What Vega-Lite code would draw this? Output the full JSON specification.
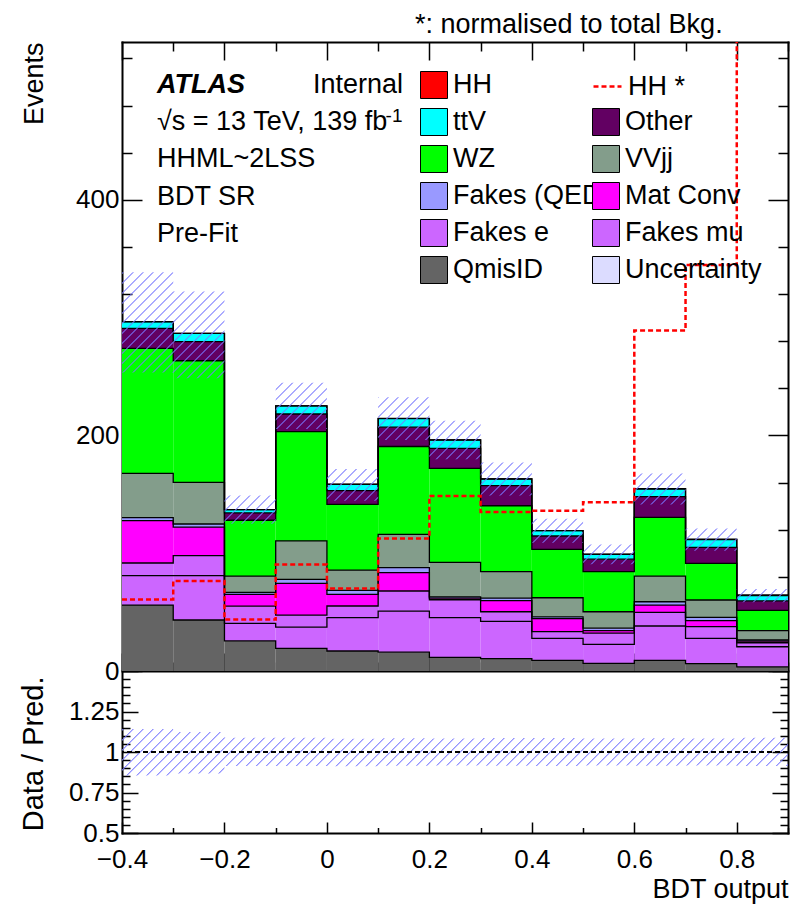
{
  "$schema": "https://vega.github.io/schema/vega-lite/v6.json",
  "width": 666,
  "height": 791,
  "autosize": {"type": "none"},
  "padding": {"left": 122, "top": 42, "right": 2, "bottom": 79},
  "background": "white",
  "datasets": {
    "procs": [
      {"lo": -0.4, "hi": -0.3, "process": "QmisID", "events": 56},
      {"lo": -0.4, "hi": -0.3, "process": "Fakes mu", "events": 25},
      {"lo": -0.4, "hi": -0.3, "process": "Fakes e", "events": 10.7},
      {"lo": -0.4, "hi": -0.3, "process": "Mat Conv", "events": 35.9},
      {"lo": -0.4, "hi": -0.3, "process": "Fakes (QED)", "events": 2.6},
      {"lo": -0.4, "hi": -0.3, "process": "VVjj", "events": 37.6},
      {"lo": -0.4, "hi": -0.3, "process": "WZ", "events": 106.1},
      {"lo": -0.4, "hi": -0.3, "process": "Other", "events": 17},
      {"lo": -0.4, "hi": -0.3, "process": "ttV", "events": 5.6},
      {"lo": -0.4, "hi": -0.3, "process": "HH", "events": 0.06},
      {"lo": -0.3, "hi": -0.2, "process": "QmisID", "events": 43.3},
      {"lo": -0.3, "hi": -0.2, "process": "Fakes mu", "events": 37.7},
      {"lo": -0.3, "hi": -0.2, "process": "Fakes e", "events": 17},
      {"lo": -0.3, "hi": -0.2, "process": "Mat Conv", "events": 24.2},
      {"lo": -0.3, "hi": -0.2, "process": "Fakes (QED)", "events": 2.6},
      {"lo": -0.3, "hi": -0.2, "process": "VVjj", "events": 35.4},
      {"lo": -0.3, "hi": -0.2, "process": "WZ", "events": 103.2},
      {"lo": -0.3, "hi": -0.2, "process": "Other", "events": 16.2},
      {"lo": -0.3, "hi": -0.2, "process": "ttV", "events": 7},
      {"lo": -0.3, "hi": -0.2, "process": "HH", "events": 0.08},
      {"lo": -0.2, "hi": -0.1, "process": "QmisID", "events": 25.5},
      {"lo": -0.2, "hi": -0.1, "process": "Fakes mu", "events": 14.9},
      {"lo": -0.2, "hi": -0.1, "process": "Fakes e", "events": 14.6},
      {"lo": -0.2, "hi": -0.1, "process": "Mat Conv", "events": 10},
      {"lo": -0.2, "hi": -0.1, "process": "Fakes (QED)", "events": 1.8},
      {"lo": -0.2, "hi": -0.1, "process": "VVjj", "events": 13.8},
      {"lo": -0.2, "hi": -0.1, "process": "WZ", "events": 47.4},
      {"lo": -0.2, "hi": -0.1, "process": "Other", "events": 6.2},
      {"lo": -0.2, "hi": -0.1, "process": "ttV", "events": 2.8},
      {"lo": -0.2, "hi": -0.1, "process": "HH", "events": 0.04},
      {"lo": -0.1, "hi": 0, "process": "QmisID", "events": 19.2},
      {"lo": -0.1, "hi": 0, "process": "Fakes mu", "events": 18.1},
      {"lo": -0.1, "hi": 0, "process": "Fakes e", "events": 10.2},
      {"lo": -0.1, "hi": 0, "process": "Mat Conv", "events": 26.9},
      {"lo": -0.1, "hi": 0, "process": "Fakes (QED)", "events": 3.4},
      {"lo": -0.1, "hi": 0, "process": "VVjj", "events": 32.6},
      {"lo": -0.1, "hi": 0, "process": "WZ", "events": 92.8},
      {"lo": -0.1, "hi": 0, "process": "Other", "events": 15},
      {"lo": -0.1, "hi": 0, "process": "ttV", "events": 6.8},
      {"lo": -0.1, "hi": 0, "process": "HH", "events": 0.09},
      {"lo": 0, "hi": 0.1, "process": "QmisID", "events": 17},
      {"lo": 0, "hi": 0.1, "process": "Fakes mu", "events": 28.3},
      {"lo": 0, "hi": 0.1, "process": "Fakes e", "events": 9.9},
      {"lo": 0, "hi": 0.1, "process": "Mat Conv", "events": 9.9},
      {"lo": 0, "hi": 0.1, "process": "Fakes (QED)", "events": 3.4},
      {"lo": 0, "hi": 0.1, "process": "VVjj", "events": 17.2},
      {"lo": 0, "hi": 0.1, "process": "WZ", "events": 55.8},
      {"lo": 0, "hi": 0.1, "process": "Other", "events": 11.6},
      {"lo": 0, "hi": 0.1, "process": "ttV", "events": 5.4},
      {"lo": 0, "hi": 0.1, "process": "HH", "events": 0.07},
      {"lo": 0.1, "hi": 0.2, "process": "QmisID", "events": 16},
      {"lo": 0.1, "hi": 0.2, "process": "Fakes mu", "events": 34.9},
      {"lo": 0.1, "hi": 0.2, "process": "Fakes e", "events": 17},
      {"lo": 0.1, "hi": 0.2, "process": "Mat Conv", "events": 15.6},
      {"lo": 0.1, "hi": 0.2, "process": "Fakes (QED)", "events": 4.2},
      {"lo": 0.1, "hi": 0.2, "process": "VVjj", "events": 28.3},
      {"lo": 0.1, "hi": 0.2, "process": "WZ", "events": 74.6},
      {"lo": 0.1, "hi": 0.2, "process": "Other", "events": 16.4},
      {"lo": 0.1, "hi": 0.2, "process": "ttV", "events": 7.3},
      {"lo": 0.1, "hi": 0.2, "process": "HH", "events": 0.11},
      {"lo": 0.2, "hi": 0.3, "process": "QmisID", "events": 11.5},
      {"lo": 0.2, "hi": 0.3, "process": "Fakes mu", "events": 33.8},
      {"lo": 0.2, "hi": 0.3, "process": "Fakes e", "events": 15.2},
      {"lo": 0.2, "hi": 0.3, "process": "Mat Conv", "events": 1.3},
      {"lo": 0.2, "hi": 0.3, "process": "Fakes (QED)", "events": 1.1},
      {"lo": 0.2, "hi": 0.3, "process": "VVjj", "events": 29.3},
      {"lo": 0.2, "hi": 0.3, "process": "WZ", "events": 79.8},
      {"lo": 0.2, "hi": 0.3, "process": "Other", "events": 17},
      {"lo": 0.2, "hi": 0.3, "process": "ttV", "events": 7.1},
      {"lo": 0.2, "hi": 0.3, "process": "HH", "events": 0.15},
      {"lo": 0.3, "hi": 0.4, "process": "QmisID", "events": 10.5},
      {"lo": 0.3, "hi": 0.4, "process": "Fakes mu", "events": 31.7},
      {"lo": 0.3, "hi": 0.4, "process": "Fakes e", "events": 8.1},
      {"lo": 0.3, "hi": 0.4, "process": "Mat Conv", "events": 9.5},
      {"lo": 0.3, "hi": 0.4, "process": "Fakes (QED)", "events": 2.1},
      {"lo": 0.3, "hi": 0.4, "process": "VVjj", "events": 22.4},
      {"lo": 0.3, "hi": 0.4, "process": "WZ", "events": 56},
      {"lo": 0.3, "hi": 0.4, "process": "Other", "events": 17},
      {"lo": 0.3, "hi": 0.4, "process": "ttV", "events": 5.7},
      {"lo": 0.3, "hi": 0.4, "process": "HH", "events": 0.14},
      {"lo": 0.4, "hi": 0.5, "process": "QmisID", "events": 9},
      {"lo": 0.4, "hi": 0.5, "process": "Fakes mu", "events": 18.7},
      {"lo": 0.4, "hi": 0.5, "process": "Fakes e", "events": 5.7},
      {"lo": 0.4, "hi": 0.5, "process": "Mat Conv", "events": 11},
      {"lo": 0.4, "hi": 0.5, "process": "Fakes (QED)", "events": 1.5},
      {"lo": 0.4, "hi": 0.5, "process": "VVjj", "events": 16.3},
      {"lo": 0.4, "hi": 0.5, "process": "WZ", "events": 41.1},
      {"lo": 0.4, "hi": 0.5, "process": "Other", "events": 11.3},
      {"lo": 0.4, "hi": 0.5, "process": "ttV", "events": 4.5},
      {"lo": 0.4, "hi": 0.5, "process": "HH", "events": 0.14},
      {"lo": 0.5, "hi": 0.6, "process": "QmisID", "events": 6.5},
      {"lo": 0.5, "hi": 0.6, "process": "Fakes mu", "events": 16.1},
      {"lo": 0.5, "hi": 0.6, "process": "Fakes e", "events": 9.6},
      {"lo": 0.5, "hi": 0.6, "process": "Mat Conv", "events": 2.1},
      {"lo": 0.5, "hi": 0.6, "process": "Fakes (QED)", "events": 2.1},
      {"lo": 0.5, "hi": 0.6, "process": "VVjj", "events": 13.9},
      {"lo": 0.5, "hi": 0.6, "process": "WZ", "events": 34},
      {"lo": 0.5, "hi": 0.6, "process": "Other", "events": 10.6},
      {"lo": 0.5, "hi": 0.6, "process": "ttV", "events": 4.1},
      {"lo": 0.5, "hi": 0.6, "process": "HH", "events": 0.14},
      {"lo": 0.6, "hi": 0.7, "process": "QmisID", "events": 9},
      {"lo": 0.6, "hi": 0.7, "process": "Fakes mu", "events": 29.2},
      {"lo": 0.6, "hi": 0.7, "process": "Fakes e", "events": 11.6},
      {"lo": 0.6, "hi": 0.7, "process": "Mat Conv", "events": 6.2},
      {"lo": 0.6, "hi": 0.7, "process": "Fakes (QED)", "events": 2.8},
      {"lo": 0.6, "hi": 0.7, "process": "VVjj", "events": 21.8},
      {"lo": 0.6, "hi": 0.7, "process": "WZ", "events": 49.9},
      {"lo": 0.6, "hi": 0.7, "process": "Other", "events": 17.5},
      {"lo": 0.6, "hi": 0.7, "process": "ttV", "events": 6.5},
      {"lo": 0.6, "hi": 0.7, "process": "HH", "events": 0.29},
      {"lo": 0.7, "hi": 0.8, "process": "QmisID", "events": 6.2},
      {"lo": 0.7, "hi": 0.8, "process": "Fakes mu", "events": 21.5},
      {"lo": 0.7, "hi": 0.8, "process": "Fakes e", "events": 9.9},
      {"lo": 0.7, "hi": 0.8, "process": "Mat Conv", "events": 5.1},
      {"lo": 0.7, "hi": 0.8, "process": "Fakes (QED)", "events": 2.9},
      {"lo": 0.7, "hi": 0.8, "process": "VVjj", "events": 14.7},
      {"lo": 0.7, "hi": 0.8, "process": "WZ", "events": 31.1},
      {"lo": 0.7, "hi": 0.8, "process": "Other", "events": 13.6},
      {"lo": 0.7, "hi": 0.8, "process": "ttV", "events": 6.5},
      {"lo": 0.7, "hi": 0.8, "process": "HH", "events": 0.34},
      {"lo": 0.8, "hi": 0.9, "process": "QmisID", "events": 3.5},
      {"lo": 0.8, "hi": 0.9, "process": "Fakes mu", "events": 17.1},
      {"lo": 0.8, "hi": 0.9, "process": "Fakes e", "events": 3.4},
      {"lo": 0.8, "hi": 0.9, "process": "Mat Conv", "events": 1.3},
      {"lo": 0.8, "hi": 0.9, "process": "Fakes (QED)", "events": 1},
      {"lo": 0.8, "hi": 0.9, "process": "VVjj", "events": 7.9},
      {"lo": 0.8, "hi": 0.9, "process": "WZ", "events": 17.3},
      {"lo": 0.8, "hi": 0.9, "process": "Other", "events": 8},
      {"lo": 0.8, "hi": 0.9, "process": "ttV", "events": 4.5},
      {"lo": 0.8, "hi": 0.9, "process": "HH", "events": 0.58}
    ],
    "bins": [
      {"lo": -0.4, "hi": -0.3, "hhstar": 60.8, "band_lo": 253.5, "band_hi": 338.6, "ratio_lo": 0.855, "ratio_hi": 1.142},
      {"lo": -0.3, "hi": -0.2, "hhstar": 76.4, "band_lo": 248.5, "band_hi": 322.1, "ratio_lo": 0.867, "ratio_hi": 1.124},
      {"lo": -0.2, "hi": -0.1, "hhstar": 43.8, "band_lo": 125.1, "band_hi": 149.1, "ratio_lo": 0.913, "ratio_hi": 1.088},
      {"lo": -0.1, "hi": 0, "hhstar": 90.5, "band_lo": 205.4, "band_hi": 244.8, "ratio_lo": 0.913, "ratio_hi": 1.088},
      {"lo": 0, "hi": 0.1, "hhstar": 70, "band_lo": 144.6, "band_hi": 171.5, "ratio_lo": 0.912, "ratio_hi": 1.082},
      {"lo": 0.1, "hi": 0.2, "hhstar": 112.5, "band_lo": 196.1, "band_hi": 232.5, "ratio_lo": 0.915, "ratio_hi": 1.085},
      {"lo": 0.2, "hi": 0.3, "hhstar": 148.6, "band_lo": 179.8, "band_hi": 212.4, "ratio_lo": 0.917, "ratio_hi": 1.083},
      {"lo": 0.3, "hi": 0.4, "hhstar": 135, "band_lo": 149.1, "band_hi": 177, "ratio_lo": 0.915, "ratio_hi": 1.086},
      {"lo": 0.4, "hi": 0.5, "hhstar": 136, "band_lo": 108.9, "band_hi": 129.3, "ratio_lo": 0.914, "ratio_hi": 1.086},
      {"lo": 0.5, "hi": 0.6, "hhstar": 143.2, "band_lo": 90.7, "band_hi": 107.3, "ratio_lo": 0.916, "ratio_hi": 1.084},
      {"lo": 0.6, "hi": 0.7, "hhstar": 289, "band_lo": 141.4, "band_hi": 167.6, "ratio_lo": 0.915, "ratio_hi": 1.085},
      {"lo": 0.7, "hi": 0.8, "hhstar": 344.6, "band_lo": 102.1, "band_hi": 120.9, "ratio_lo": 0.916, "ratio_hi": 1.084},
      {"lo": 0.8, "hi": 0.9, "hhstar": 575, "band_lo": 58.4, "band_hi": 69.6, "ratio_lo": 0.913, "ratio_hi": 1.088}
    ]
  },
  "resolve": {
    "scale": {"y": "independent"},
    "axis": {"x": "independent", "y": "independent"}
  },
  "layer": [
    {
      "data": {"name": "procs"},
      "transform": [
        {"calculate": "indexof(['QmisID','Fakes mu','Fakes e','Mat Conv','Fakes (QED)','VVjj','WZ','Other','ttV','HH'], datum.process)", "as": "rank"},
        {"stack": "events", "groupby": ["lo"], "sort": [{"field": "rank", "order": "ascending"}], "as": ["cum_lo", "cum_hi"]}
      ],
      "layer": [
        {
          "transform": [{"filter": {"field": "process", "oneOf": ["HH","ttV","WZ","Fakes (QED)","Fakes e","QmisID"]}}],
          "mark": {"type": "rect"},
          "encoding": {
            "x": {
              "field": "lo", "type": "quantitative",
              "scale": {"domain": [-0.4, 0.9], "nice": false, "zero": false},
              "axis": {
                "orient": "bottom",
                "values": [-0.4,-0.35,-0.3,-0.25,-0.2,-0.15,-0.1,-0.05,0,0.05,0.1,0.15,0.2,0.25,0.3,0.35,0.4,0.45,0.5,0.55,0.6,0.65,0.7,0.75,0.8,0.85,0.9],
                "format": ".3~g",
                "labelOverlap": false,
                "labelExpr": "abs(datum.value*5 - round(datum.value*5)) < 0.001 ? datum.label : ''",
                "labelFontSize": {"condition": {"test": "abs(datum.value*5 - round(datum.value*5)) < 0.001", "value": 26}, "value": 0},
                "tickSize": {"condition": {"test": "abs(datum.value*5 - round(datum.value*5)) < 0.001", "value": -11}, "value": -5.5},
                "labelPadding": 24,
                "title": "BDT output",
                "titleX": 666, "titleY": 64, "titleAlign": "right", "titleBaseline": "alphabetic"
              }
            },
            "x2": {"field": "hi"},
            "y": {
              "field": "cum_lo", "type": "quantitative",
              "scale": {"domain": [-137.53, 534], "nice": false, "zero": false},
              "axis": {
                "orient": "left",
                "values": [0,100,200,300,400,500,20,120,220,320,420,520,40,140,240,340,440,60,160,260,360,460,80,180,280,380,480],
                "format": ".3~g",
                "labelOverlap": false,
                "labelExpr": "datum.value % 100 === 0 ? datum.label : ''",
                "labelFontSize": {"condition": {"test": "datum.value % 100 === 0", "value": 26}, "value": 0},
                "tickSize": {"condition": {"test": "datum.value % 100 === 0", "value": -20}, "value": -10},
                "labelPadding": 23,
                "title": "Events",
                "titleX": -80, "titleY": 0, "titleAngle": -90, "titleAlign": "right", "titleBaseline": "alphabetic"
              }
            },
            "y2": {"field": "cum_hi"},
            "color": {
              "field": "process", "type": "nominal",
              "scale": {
                "domain": ["HH","ttV","WZ","Fakes (QED)","Fakes e","QmisID"],
                "range": ["#ff0000","#00ffff","#00ff00","#9999ff","#cc66ff","#646464"]
              },
              "legend": {
                "orient": "none", "legendX": 298, "legendY": 29,
                "title": null, "padding": 0,
                "symbolType": "square", "symbolSize": 729,
                "symbolStrokeColor": "black", "symbolStrokeWidth": 1, "symbolOpacity": 1,
                "labelFont": "Liberation Sans", "labelFontSize": 27, "labelColor": "black",
                "labelOffset": 5, "labelLimit": 400, "rowPadding": 5
              }
            }
          }
        },
        {
          "transform": [{"filter": {"field": "process", "oneOf": ["Other","VVjj","Mat Conv","Fakes mu"]}}],
          "mark": {"type": "rect"},
          "encoding": {
            "x": {"field": "lo", "type": "quantitative", "axis": {"labelOverlap": false}},
            "x2": {"field": "hi"},
            "y": {"field": "cum_lo", "type": "quantitative", "axis": {"labelOverlap": false}},
            "y2": {"field": "cum_hi"},
            "fill": {
              "field": "process", "type": "nominal",
              "scale": {
                "domain": ["Other","VVjj","Mat Conv","Fakes mu","Uncertainty"],
                "range": ["#620062","#839d8b","#ff00ff","#cc66ff","#dcdcff"]
              },
              "legend": {
                "orient": "none", "legendX": 470, "legendY": 66,
                "title": null, "padding": 0,
                "symbolType": "square", "symbolSize": 729,
                "symbolStrokeColor": "black", "symbolStrokeWidth": 1, "symbolOpacity": 1,
                "labelFont": "Liberation Sans", "labelFontSize": 27, "labelColor": "black",
                "labelOffset": 5, "labelLimit": 400, "rowPadding": 5
              }
            }
          }
        },
        {
          "transform": [{"fold": ["lo", "hi"], "as": ["side", "edge"]}],
          "mark": {"type": "line", "color": "black", "strokeWidth": 1.3},
          "encoding": {
            "x": {"field": "edge", "type": "quantitative", "axis": {"labelOverlap": false}},
            "y": {"field": "cum_hi", "type": "quantitative", "axis": {"labelOverlap": false}},
            "detail": {"field": "process"},
            "order": [{"field": "edge", "type": "quantitative"}, {"field": "lo", "type": "quantitative"}]
          }
        }
      ]
    },
    {
      "data": {"name": "bins"},
      "transform": [{"fold": ["lo", "hi"], "as": ["side", "edge"]}],
      "layer": [
        {
          "mark": {"type": "area", "interpolate": "linear", "fill": {"gradient": "linear", "x1": 0, "y1": 0, "x2": 1.2055, "y2": 0.5974, "stops": [
            {"offset":0,"color":"#77f0"},{"offset":0.0013,"color":"#77f"},{"offset":0.0026,"color":"#77f0"},
            {"offset":0.01,"color":"#77f0"},{"offset":0.0113,"color":"#77f"},{"offset":0.0126,"color":"#77f0"},
            {"offset":0.02,"color":"#77f0"},{"offset":0.0213,"color":"#77f"},{"offset":0.0226,"color":"#77f0"},
            {"offset":0.03,"color":"#77f0"},{"offset":0.0313,"color":"#77f"},{"offset":0.0326,"color":"#77f0"},
            {"offset":0.04,"color":"#77f0"},{"offset":0.0413,"color":"#77f"},{"offset":0.0426,"color":"#77f0"},
            {"offset":0.05,"color":"#77f0"},{"offset":0.0513,"color":"#77f"},{"offset":0.0526,"color":"#77f0"},
            {"offset":0.06,"color":"#77f0"},{"offset":0.0613,"color":"#77f"},{"offset":0.0626,"color":"#77f0"},
            {"offset":0.07,"color":"#77f0"},{"offset":0.0713,"color":"#77f"},{"offset":0.0726,"color":"#77f0"},
            {"offset":0.08,"color":"#77f0"},{"offset":0.0813,"color":"#77f"},{"offset":0.0826,"color":"#77f0"},
            {"offset":0.09,"color":"#77f0"},{"offset":0.0913,"color":"#77f"},{"offset":0.0926,"color":"#77f0"},
            {"offset":0.1,"color":"#77f0"},{"offset":0.1013,"color":"#77f"},{"offset":0.1026,"color":"#77f0"},
            {"offset":0.11,"color":"#77f0"},{"offset":0.1113,"color":"#77f"},{"offset":0.1126,"color":"#77f0"},
            {"offset":0.12,"color":"#77f0"},{"offset":0.1213,"color":"#77f"},{"offset":0.1226,"color":"#77f0"},
            {"offset":0.13,"color":"#77f0"},{"offset":0.1313,"color":"#77f"},{"offset":0.1326,"color":"#77f0"},
            {"offset":0.14,"color":"#77f0"},{"offset":0.1413,"color":"#77f"},{"offset":0.1426,"color":"#77f0"},
            {"offset":0.15,"color":"#77f0"},{"offset":0.1513,"color":"#77f"},{"offset":0.1526,"color":"#77f0"},
            {"offset":0.16,"color":"#77f0"},{"offset":0.1613,"color":"#77f"},{"offset":0.1626,"color":"#77f0"},
            {"offset":0.17,"color":"#77f0"},{"offset":0.1713,"color":"#77f"},{"offset":0.1726,"color":"#77f0"},
            {"offset":0.18,"color":"#77f0"},{"offset":0.1813,"color":"#77f"},{"offset":0.1826,"color":"#77f0"},
            {"offset":0.19,"color":"#77f0"},{"offset":0.1913,"color":"#77f"},{"offset":0.1926,"color":"#77f0"},
            {"offset":0.2,"color":"#77f0"},{"offset":0.2013,"color":"#77f"},{"offset":0.2026,"color":"#77f0"},
            {"offset":0.21,"color":"#77f0"},{"offset":0.2113,"color":"#77f"},{"offset":0.2126,"color":"#77f0"},
            {"offset":0.22,"color":"#77f0"},{"offset":0.2213,"color":"#77f"},{"offset":0.2226,"color":"#77f0"},
            {"offset":0.23,"color":"#77f0"},{"offset":0.2313,"color":"#77f"},{"offset":0.2326,"color":"#77f0"},
            {"offset":0.24,"color":"#77f0"},{"offset":0.2413,"color":"#77f"},{"offset":0.2426,"color":"#77f0"},
            {"offset":0.25,"color":"#77f0"},{"offset":0.2513,"color":"#77f"},{"offset":0.2526,"color":"#77f0"},
            {"offset":0.26,"color":"#77f0"},{"offset":0.2613,"color":"#77f"},{"offset":0.2626,"color":"#77f0"},
            {"offset":0.27,"color":"#77f0"},{"offset":0.2713,"color":"#77f"},{"offset":0.2726,"color":"#77f0"},
            {"offset":0.28,"color":"#77f0"},{"offset":0.2813,"color":"#77f"},{"offset":0.2826,"color":"#77f0"},
            {"offset":0.29,"color":"#77f0"},{"offset":0.2913,"color":"#77f"},{"offset":0.2926,"color":"#77f0"},
            {"offset":0.3,"color":"#77f0"},{"offset":0.3013,"color":"#77f"},{"offset":0.3026,"color":"#77f0"},
            {"offset":0.31,"color":"#77f0"},{"offset":0.3113,"color":"#77f"},{"offset":0.3126,"color":"#77f0"},
            {"offset":0.32,"color":"#77f0"},{"offset":0.3213,"color":"#77f"},{"offset":0.3226,"color":"#77f0"},
            {"offset":0.33,"color":"#77f0"},{"offset":0.3313,"color":"#77f"},{"offset":0.3326,"color":"#77f0"},
            {"offset":0.34,"color":"#77f0"},{"offset":0.3413,"color":"#77f"},{"offset":0.3426,"color":"#77f0"},
            {"offset":0.35,"color":"#77f0"},{"offset":0.3513,"color":"#77f"},{"offset":0.3526,"color":"#77f0"},
            {"offset":0.36,"color":"#77f0"},{"offset":0.3613,"color":"#77f"},{"offset":0.3626,"color":"#77f0"},
            {"offset":0.37,"color":"#77f0"},{"offset":0.3713,"color":"#77f"},{"offset":0.3726,"color":"#77f0"},
            {"offset":0.38,"color":"#77f0"},{"offset":0.3813,"color":"#77f"},{"offset":0.3826,"color":"#77f0"},
            {"offset":0.39,"color":"#77f0"},{"offset":0.3913,"color":"#77f"},{"offset":0.3926,"color":"#77f0"},
            {"offset":0.4,"color":"#77f0"},{"offset":0.4013,"color":"#77f"},{"offset":0.4026,"color":"#77f0"},
            {"offset":0.41,"color":"#77f0"},{"offset":0.4113,"color":"#77f"},{"offset":0.4126,"color":"#77f0"},
            {"offset":0.42,"color":"#77f0"},{"offset":0.4213,"color":"#77f"},{"offset":0.4226,"color":"#77f0"},
            {"offset":0.43,"color":"#77f0"},{"offset":0.4313,"color":"#77f"},{"offset":0.4326,"color":"#77f0"},
            {"offset":0.44,"color":"#77f0"},{"offset":0.4413,"color":"#77f"},{"offset":0.4426,"color":"#77f0"},
            {"offset":0.45,"color":"#77f0"},{"offset":0.4513,"color":"#77f"},{"offset":0.4526,"color":"#77f0"},
            {"offset":0.46,"color":"#77f0"},{"offset":0.4613,"color":"#77f"},{"offset":0.4626,"color":"#77f0"},
            {"offset":0.47,"color":"#77f0"},{"offset":0.4713,"color":"#77f"},{"offset":0.4726,"color":"#77f0"},
            {"offset":0.48,"color":"#77f0"},{"offset":0.4813,"color":"#77f"},{"offset":0.4826,"color":"#77f0"},
            {"offset":0.49,"color":"#77f0"},{"offset":0.4913,"color":"#77f"},{"offset":0.4926,"color":"#77f0"},
            {"offset":0.5,"color":"#77f0"},{"offset":0.5013,"color":"#77f"},{"offset":0.5026,"color":"#77f0"},
            {"offset":0.51,"color":"#77f0"},{"offset":0.5113,"color":"#77f"},{"offset":0.5126,"color":"#77f0"},
            {"offset":0.52,"color":"#77f0"},{"offset":0.5213,"color":"#77f"},{"offset":0.5226,"color":"#77f0"},
            {"offset":0.53,"color":"#77f0"},{"offset":0.5313,"color":"#77f"},{"offset":0.5326,"color":"#77f0"},
            {"offset":0.54,"color":"#77f0"},{"offset":0.5413,"color":"#77f"},{"offset":0.5426,"color":"#77f0"},
            {"offset":0.55,"color":"#77f0"},{"offset":0.5513,"color":"#77f"},{"offset":0.5526,"color":"#77f0"},
            {"offset":0.56,"color":"#77f0"},{"offset":0.5613,"color":"#77f"},{"offset":0.5626,"color":"#77f0"},
            {"offset":0.57,"color":"#77f0"},{"offset":0.5713,"color":"#77f"},{"offset":0.5726,"color":"#77f0"},
            {"offset":0.58,"color":"#77f0"},{"offset":0.5813,"color":"#77f"},{"offset":0.5826,"color":"#77f0"},
            {"offset":0.59,"color":"#77f0"},{"offset":0.5913,"color":"#77f"},{"offset":0.5926,"color":"#77f0"},
            {"offset":0.6,"color":"#77f0"},{"offset":0.6013,"color":"#77f"},{"offset":0.6026,"color":"#77f0"},
            {"offset":0.61,"color":"#77f0"},{"offset":0.6113,"color":"#77f"},{"offset":0.6126,"color":"#77f0"},
            {"offset":0.62,"color":"#77f0"},{"offset":0.6213,"color":"#77f"},{"offset":0.6226,"color":"#77f0"},
            {"offset":0.63,"color":"#77f0"},{"offset":0.6313,"color":"#77f"},{"offset":0.6326,"color":"#77f0"},
            {"offset":0.64,"color":"#77f0"},{"offset":0.6413,"color":"#77f"},{"offset":0.6426,"color":"#77f0"},
            {"offset":0.65,"color":"#77f0"},{"offset":0.6513,"color":"#77f"},{"offset":0.6526,"color":"#77f0"},
            {"offset":0.66,"color":"#77f0"},{"offset":0.6613,"color":"#77f"},{"offset":0.6626,"color":"#77f0"},
            {"offset":0.67,"color":"#77f0"},{"offset":0.6713,"color":"#77f"},{"offset":0.6726,"color":"#77f0"},
            {"offset":0.68,"color":"#77f0"},{"offset":0.6813,"color":"#77f"},{"offset":0.6826,"color":"#77f0"},
            {"offset":0.69,"color":"#77f0"},{"offset":0.6913,"color":"#77f"},{"offset":0.6926,"color":"#77f0"},
            {"offset":0.7,"color":"#77f0"},{"offset":0.7013,"color":"#77f"},{"offset":0.7026,"color":"#77f0"},
            {"offset":0.71,"color":"#77f0"},{"offset":0.7113,"color":"#77f"},{"offset":0.7126,"color":"#77f0"},
            {"offset":0.72,"color":"#77f0"},{"offset":0.7213,"color":"#77f"},{"offset":0.7226,"color":"#77f0"},
            {"offset":0.73,"color":"#77f0"},{"offset":0.7313,"color":"#77f"},{"offset":0.7326,"color":"#77f0"},
            {"offset":0.74,"color":"#77f0"},{"offset":0.7413,"color":"#77f"},{"offset":0.7426,"color":"#77f0"},
            {"offset":0.75,"color":"#77f0"},{"offset":0.7513,"color":"#77f"},{"offset":0.7526,"color":"#77f0"},
            {"offset":0.76,"color":"#77f0"},{"offset":0.7613,"color":"#77f"},{"offset":0.7626,"color":"#77f0"},
            {"offset":0.77,"color":"#77f0"},{"offset":0.7713,"color":"#77f"},{"offset":0.7726,"color":"#77f0"},
            {"offset":0.78,"color":"#77f0"},{"offset":0.7813,"color":"#77f"},{"offset":0.7826,"color":"#77f0"},
            {"offset":0.79,"color":"#77f0"},{"offset":0.7913,"color":"#77f"},{"offset":0.7926,"color":"#77f0"},
            {"offset":0.8,"color":"#77f0"},{"offset":0.8013,"color":"#77f"},{"offset":0.8026,"color":"#77f0"},
            {"offset":0.81,"color":"#77f0"},{"offset":0.8113,"color":"#77f"},{"offset":0.8126,"color":"#77f0"},
            {"offset":0.82,"color":"#77f0"},{"offset":0.8213,"color":"#77f"},{"offset":0.8226,"color":"#77f0"},
            {"offset":0.83,"color":"#77f0"},{"offset":0.8313,"color":"#77f"},{"offset":0.8326,"color":"#77f0"},
            {"offset":0.84,"color":"#77f0"},{"offset":0.8413,"color":"#77f"},{"offset":0.8426,"color":"#77f0"},
            {"offset":0.85,"color":"#77f0"},{"offset":0.8513,"color":"#77f"},{"offset":0.8526,"color":"#77f0"},
            {"offset":0.86,"color":"#77f0"},{"offset":0.8613,"color":"#77f"},{"offset":0.8626,"color":"#77f0"},
            {"offset":0.87,"color":"#77f0"},{"offset":0.8713,"color":"#77f"},{"offset":0.8726,"color":"#77f0"},
            {"offset":0.88,"color":"#77f0"},{"offset":0.8813,"color":"#77f"},{"offset":0.8826,"color":"#77f0"},
            {"offset":0.89,"color":"#77f0"},{"offset":0.8913,"color":"#77f"},{"offset":0.8926,"color":"#77f0"},
            {"offset":0.9,"color":"#77f0"},{"offset":0.9013,"color":"#77f"},{"offset":0.9026,"color":"#77f0"},
            {"offset":0.91,"color":"#77f0"},{"offset":0.9113,"color":"#77f"},{"offset":0.9126,"color":"#77f0"},
            {"offset":0.92,"color":"#77f0"},{"offset":0.9213,"color":"#77f"},{"offset":0.9226,"color":"#77f0"},
            {"offset":0.93,"color":"#77f0"},{"offset":0.9313,"color":"#77f"},{"offset":0.9326,"color":"#77f0"},
            {"offset":0.94,"color":"#77f0"},{"offset":0.9413,"color":"#77f"},{"offset":0.9426,"color":"#77f0"},
            {"offset":0.95,"color":"#77f0"},{"offset":0.9513,"color":"#77f"},{"offset":0.9526,"color":"#77f0"},
            {"offset":0.96,"color":"#77f0"},{"offset":0.9613,"color":"#77f"},{"offset":0.9626,"color":"#77f0"},
            {"offset":0.97,"color":"#77f0"},{"offset":0.9713,"color":"#77f"},{"offset":0.9726,"color":"#77f0"},
            {"offset":0.98,"color":"#77f0"},{"offset":0.9813,"color":"#77f"},{"offset":0.9826,"color":"#77f0"},
            {"offset":0.99,"color":"#77f0"},{"offset":0.9913,"color":"#77f"},{"offset":0.9926,"color":"#77f0"}
          ]}},
          "encoding": {
            "x": {
              "field": "edge", "type": "quantitative",
              "axis": {
                "orient": "top",
                "values": [-0.4,-0.35,-0.3,-0.25,-0.2,-0.15,-0.1,-0.05,0,0.05,0.1,0.15,0.2,0.25,0.3,0.35,0.4,0.45,0.5,0.55,0.6,0.65,0.7,0.75,0.8,0.85,0.9],
                "labels": false,
                "tickSize": {"condition": {"test": "abs(datum.value*5 - round(datum.value*5)) < 0.001", "value": -18}, "value": -9},
                "title": null
              }
            },
            "y": {
              "field": "band_hi", "type": "quantitative",
              "scale": {"domain": [-137.53, 534], "nice": false, "zero": false},
              "axis": {
                "orient": "right",
                "values": [0,20,40,60,80,100,120,140,160,180,200,220,240,260,280,300,320,340,360,380,400,420,440,460,480,500,520],
                "labels": false,
                "tickSize": {"condition": {"test": "datum.value % 100 === 0", "value": -20}, "value": -10},
                "title": null
              }
            },
            "y2": {"field": "band_lo"},
            "order": [{"field": "edge", "type": "quantitative"}, {"field": "lo", "type": "quantitative"}]
          }
        },
        {
          "mark": {"type": "line", "color": "#ff0000", "strokeWidth": 2.5, "clip": true},
          "encoding": {
            "x": {"field": "edge", "type": "quantitative"},
            "y": {"field": "hhstar", "type": "quantitative", "scale": {"domain": [-137.53, 534], "nice": false, "zero": false}},
            "strokeDash": {
              "datum": "HH *", "type": "nominal",
              "scale": {"domain": ["HH *"], "range": [[5, 3]]},
              "legend": {
                "orient": "none", "legendX": 470, "legendY": 29,
                "title": null, "padding": 0,
                "symbolType": "stroke", "symbolSize": 784, "symbolStrokeWidth": 2.5,
                "labelFont": "Liberation Sans", "labelFontSize": 27, "labelColor": "black",
                "labelOffset": 5, "labelLimit": 400
              }
            },
            "order": [{"field": "edge", "type": "quantitative"}, {"field": "lo", "type": "quantitative"}]
          }
        },
        {
          "data": {"values": [{}]},
          "mark": {"type": "text", "text": "ATLAS", "align": "left", "baseline": "alphabetic", "fontSize": 27, "fontWeight": "bold", "fontStyle": "italic", "color": "black"},
          "encoding": {
            "x": {"datum": -0.3317, "type": "quantitative"},
            "y": {"datum": 490.7, "type": "quantitative", "scale": {"domain": [-137.53, 534], "nice": false, "zero": false}}
          }
        },
        {
          "data": {"values": [{}]},
          "mark": {"type": "text", "text": "Internal", "align": "left", "baseline": "alphabetic", "fontSize": 27, "color": "black"},
          "encoding": {
            "x": {"datum": -0.0272, "type": "quantitative"},
            "y": {"datum": 490.7, "type": "quantitative", "scale": {"domain": [-137.53, 534], "nice": false, "zero": false}}
          }
        },
        {
          "data": {"values": [{}]},
          "mark": {"type": "text", "text": "√s = 13 TeV, 139 fb", "align": "left", "baseline": "alphabetic", "fontSize": 27, "color": "black"},
          "encoding": {
            "x": {"datum": -0.3317, "type": "quantitative"},
            "y": {"datum": 458.9, "type": "quantitative", "scale": {"domain": [-137.53, 534], "nice": false, "zero": false}}
          }
        },
        {
          "data": {"values": [{}]},
          "mark": {"type": "text", "text": "-1", "align": "left", "baseline": "alphabetic", "fontSize": 19, "color": "black"},
          "encoding": {
            "x": {"datum": 0.1145, "type": "quantitative"},
            "y": {"datum": 466.1, "type": "quantitative", "scale": {"domain": [-137.53, 534], "nice": false, "zero": false}}
          }
        },
        {
          "data": {"values": [{}]},
          "mark": {"type": "text", "text": "HHML~2LSS", "align": "left", "baseline": "alphabetic", "fontSize": 27, "color": "black"},
          "encoding": {
            "x": {"datum": -0.3317, "type": "quantitative"},
            "y": {"datum": 427.5, "type": "quantitative", "scale": {"domain": [-137.53, 534], "nice": false, "zero": false}}
          }
        },
        {
          "data": {"values": [{}]},
          "mark": {"type": "text", "text": "BDT SR", "align": "left", "baseline": "alphabetic", "fontSize": 27, "color": "black"},
          "encoding": {
            "x": {"datum": -0.3317, "type": "quantitative"},
            "y": {"datum": 395.6, "type": "quantitative", "scale": {"domain": [-137.53, 534], "nice": false, "zero": false}}
          }
        },
        {
          "data": {"values": [{}]},
          "mark": {"type": "text", "text": "Pre-Fit", "align": "left", "baseline": "alphabetic", "fontSize": 27, "color": "black"},
          "encoding": {
            "x": {"datum": -0.3317, "type": "quantitative"},
            "y": {"datum": 364.2, "type": "quantitative", "scale": {"domain": [-137.53, 534], "nice": false, "zero": false}}
          }
        },
        {
          "data": {"values": [{}]},
          "mark": {"type": "text", "text": "*: normalised to total Bkg.", "align": "left", "baseline": "alphabetic", "fontSize": 27, "color": "black"},
          "encoding": {
            "x": {"datum": 0.1719, "type": "quantitative"},
            "y": {"datum": 541.6, "type": "quantitative", "scale": {"domain": [-137.53, 534], "nice": false, "zero": false}}
          }
        }
      ]
    },
    {
      "data": {"name": "bins"},
      "transform": [{"fold": ["lo", "hi"], "as": ["side", "edge"]}],
      "mark": {"type": "area", "interpolate": "linear", "fill": {"gradient": "linear", "x1": 0, "y1": 0, "x2": 1.1954, "y2": 0.0835, "stops": [
        {"offset":0,"color":"#77f0"},{"offset":0.0016,"color":"#77f"},{"offset":0.0032,"color":"#77f0"},
        {"offset":0.0125,"color":"#77f0"},{"offset":0.0141,"color":"#77f"},{"offset":0.0157,"color":"#77f0"},
        {"offset":0.025,"color":"#77f0"},{"offset":0.0266,"color":"#77f"},{"offset":0.0282,"color":"#77f0"},
        {"offset":0.0375,"color":"#77f0"},{"offset":0.0391,"color":"#77f"},{"offset":0.0407,"color":"#77f0"},
        {"offset":0.05,"color":"#77f0"},{"offset":0.0516,"color":"#77f"},{"offset":0.0532,"color":"#77f0"},
        {"offset":0.0625,"color":"#77f0"},{"offset":0.0641,"color":"#77f"},{"offset":0.0657,"color":"#77f0"},
        {"offset":0.075,"color":"#77f0"},{"offset":0.0766,"color":"#77f"},{"offset":0.0782,"color":"#77f0"},
        {"offset":0.0875,"color":"#77f0"},{"offset":0.0891,"color":"#77f"},{"offset":0.0907,"color":"#77f0"},
        {"offset":0.1,"color":"#77f0"},{"offset":0.1016,"color":"#77f"},{"offset":0.1032,"color":"#77f0"},
        {"offset":0.1125,"color":"#77f0"},{"offset":0.1141,"color":"#77f"},{"offset":0.1157,"color":"#77f0"},
        {"offset":0.125,"color":"#77f0"},{"offset":0.1266,"color":"#77f"},{"offset":0.1282,"color":"#77f0"},
        {"offset":0.1375,"color":"#77f0"},{"offset":0.1391,"color":"#77f"},{"offset":0.1407,"color":"#77f0"},
        {"offset":0.15,"color":"#77f0"},{"offset":0.1516,"color":"#77f"},{"offset":0.1532,"color":"#77f0"},
        {"offset":0.1625,"color":"#77f0"},{"offset":0.1641,"color":"#77f"},{"offset":0.1657,"color":"#77f0"},
        {"offset":0.175,"color":"#77f0"},{"offset":0.1766,"color":"#77f"},{"offset":0.1782,"color":"#77f0"},
        {"offset":0.1875,"color":"#77f0"},{"offset":0.1891,"color":"#77f"},{"offset":0.1907,"color":"#77f0"},
        {"offset":0.2,"color":"#77f0"},{"offset":0.2016,"color":"#77f"},{"offset":0.2032,"color":"#77f0"},
        {"offset":0.2125,"color":"#77f0"},{"offset":0.2141,"color":"#77f"},{"offset":0.2157,"color":"#77f0"},
        {"offset":0.225,"color":"#77f0"},{"offset":0.2266,"color":"#77f"},{"offset":0.2282,"color":"#77f0"},
        {"offset":0.2375,"color":"#77f0"},{"offset":0.2391,"color":"#77f"},{"offset":0.2407,"color":"#77f0"},
        {"offset":0.25,"color":"#77f0"},{"offset":0.2516,"color":"#77f"},{"offset":0.2532,"color":"#77f0"},
        {"offset":0.2625,"color":"#77f0"},{"offset":0.2641,"color":"#77f"},{"offset":0.2657,"color":"#77f0"},
        {"offset":0.275,"color":"#77f0"},{"offset":0.2766,"color":"#77f"},{"offset":0.2782,"color":"#77f0"},
        {"offset":0.2875,"color":"#77f0"},{"offset":0.2891,"color":"#77f"},{"offset":0.2907,"color":"#77f0"},
        {"offset":0.3,"color":"#77f0"},{"offset":0.3016,"color":"#77f"},{"offset":0.3032,"color":"#77f0"},
        {"offset":0.3125,"color":"#77f0"},{"offset":0.3141,"color":"#77f"},{"offset":0.3157,"color":"#77f0"},
        {"offset":0.325,"color":"#77f0"},{"offset":0.3266,"color":"#77f"},{"offset":0.3282,"color":"#77f0"},
        {"offset":0.3375,"color":"#77f0"},{"offset":0.3391,"color":"#77f"},{"offset":0.3407,"color":"#77f0"},
        {"offset":0.35,"color":"#77f0"},{"offset":0.3516,"color":"#77f"},{"offset":0.3532,"color":"#77f0"},
        {"offset":0.3625,"color":"#77f0"},{"offset":0.3641,"color":"#77f"},{"offset":0.3657,"color":"#77f0"},
        {"offset":0.375,"color":"#77f0"},{"offset":0.3766,"color":"#77f"},{"offset":0.3782,"color":"#77f0"},
        {"offset":0.3875,"color":"#77f0"},{"offset":0.3891,"color":"#77f"},{"offset":0.3907,"color":"#77f0"},
        {"offset":0.4,"color":"#77f0"},{"offset":0.4016,"color":"#77f"},{"offset":0.4032,"color":"#77f0"},
        {"offset":0.4125,"color":"#77f0"},{"offset":0.4141,"color":"#77f"},{"offset":0.4157,"color":"#77f0"},
        {"offset":0.425,"color":"#77f0"},{"offset":0.4266,"color":"#77f"},{"offset":0.4282,"color":"#77f0"},
        {"offset":0.4375,"color":"#77f0"},{"offset":0.4391,"color":"#77f"},{"offset":0.4407,"color":"#77f0"},
        {"offset":0.45,"color":"#77f0"},{"offset":0.4516,"color":"#77f"},{"offset":0.4532,"color":"#77f0"},
        {"offset":0.4625,"color":"#77f0"},{"offset":0.4641,"color":"#77f"},{"offset":0.4657,"color":"#77f0"},
        {"offset":0.475,"color":"#77f0"},{"offset":0.4766,"color":"#77f"},{"offset":0.4782,"color":"#77f0"},
        {"offset":0.4875,"color":"#77f0"},{"offset":0.4891,"color":"#77f"},{"offset":0.4907,"color":"#77f0"},
        {"offset":0.5,"color":"#77f0"},{"offset":0.5016,"color":"#77f"},{"offset":0.5032,"color":"#77f0"},
        {"offset":0.5125,"color":"#77f0"},{"offset":0.5141,"color":"#77f"},{"offset":0.5157,"color":"#77f0"},
        {"offset":0.525,"color":"#77f0"},{"offset":0.5266,"color":"#77f"},{"offset":0.5282,"color":"#77f0"},
        {"offset":0.5375,"color":"#77f0"},{"offset":0.5391,"color":"#77f"},{"offset":0.5407,"color":"#77f0"},
        {"offset":0.55,"color":"#77f0"},{"offset":0.5516,"color":"#77f"},{"offset":0.5532,"color":"#77f0"},
        {"offset":0.5625,"color":"#77f0"},{"offset":0.5641,"color":"#77f"},{"offset":0.5657,"color":"#77f0"},
        {"offset":0.575,"color":"#77f0"},{"offset":0.5766,"color":"#77f"},{"offset":0.5782,"color":"#77f0"},
        {"offset":0.5875,"color":"#77f0"},{"offset":0.5891,"color":"#77f"},{"offset":0.5907,"color":"#77f0"},
        {"offset":0.6,"color":"#77f0"},{"offset":0.6016,"color":"#77f"},{"offset":0.6032,"color":"#77f0"},
        {"offset":0.6125,"color":"#77f0"},{"offset":0.6141,"color":"#77f"},{"offset":0.6157,"color":"#77f0"},
        {"offset":0.625,"color":"#77f0"},{"offset":0.6266,"color":"#77f"},{"offset":0.6282,"color":"#77f0"},
        {"offset":0.6375,"color":"#77f0"},{"offset":0.6391,"color":"#77f"},{"offset":0.6407,"color":"#77f0"},
        {"offset":0.65,"color":"#77f0"},{"offset":0.6516,"color":"#77f"},{"offset":0.6532,"color":"#77f0"},
        {"offset":0.6625,"color":"#77f0"},{"offset":0.6641,"color":"#77f"},{"offset":0.6657,"color":"#77f0"},
        {"offset":0.675,"color":"#77f0"},{"offset":0.6766,"color":"#77f"},{"offset":0.6782,"color":"#77f0"},
        {"offset":0.6875,"color":"#77f0"},{"offset":0.6891,"color":"#77f"},{"offset":0.6907,"color":"#77f0"},
        {"offset":0.7,"color":"#77f0"},{"offset":0.7016,"color":"#77f"},{"offset":0.7032,"color":"#77f0"},
        {"offset":0.7125,"color":"#77f0"},{"offset":0.7141,"color":"#77f"},{"offset":0.7157,"color":"#77f0"},
        {"offset":0.725,"color":"#77f0"},{"offset":0.7266,"color":"#77f"},{"offset":0.7282,"color":"#77f0"},
        {"offset":0.7375,"color":"#77f0"},{"offset":0.7391,"color":"#77f"},{"offset":0.7407,"color":"#77f0"},
        {"offset":0.75,"color":"#77f0"},{"offset":0.7516,"color":"#77f"},{"offset":0.7532,"color":"#77f0"},
        {"offset":0.7625,"color":"#77f0"},{"offset":0.7641,"color":"#77f"},{"offset":0.7657,"color":"#77f0"},
        {"offset":0.775,"color":"#77f0"},{"offset":0.7766,"color":"#77f"},{"offset":0.7782,"color":"#77f0"},
        {"offset":0.7875,"color":"#77f0"},{"offset":0.7891,"color":"#77f"},{"offset":0.7907,"color":"#77f0"},
        {"offset":0.8,"color":"#77f0"},{"offset":0.8016,"color":"#77f"},{"offset":0.8032,"color":"#77f0"},
        {"offset":0.8125,"color":"#77f0"},{"offset":0.8141,"color":"#77f"},{"offset":0.8157,"color":"#77f0"},
        {"offset":0.825,"color":"#77f0"},{"offset":0.8266,"color":"#77f"},{"offset":0.8282,"color":"#77f0"},
        {"offset":0.8375,"color":"#77f0"},{"offset":0.8391,"color":"#77f"},{"offset":0.8407,"color":"#77f0"},
        {"offset":0.85,"color":"#77f0"},{"offset":0.8516,"color":"#77f"},{"offset":0.8532,"color":"#77f0"},
        {"offset":0.8625,"color":"#77f0"},{"offset":0.8641,"color":"#77f"},{"offset":0.8657,"color":"#77f0"},
        {"offset":0.875,"color":"#77f0"},{"offset":0.8766,"color":"#77f"},{"offset":0.8782,"color":"#77f0"},
        {"offset":0.8875,"color":"#77f0"},{"offset":0.8891,"color":"#77f"},{"offset":0.8907,"color":"#77f0"}
      ]}},
      "encoding": {
        "x": {
          "field": "edge", "type": "quantitative",
          "axis": {
            "orient": "bottom", "offset": -162,
            "values": [-0.4,-0.35,-0.3,-0.25,-0.2,-0.15,-0.1,-0.05,0,0.05,0.1,0.15,0.2,0.25,0.3,0.35,0.4,0.45,0.5,0.55,0.6,0.65,0.7,0.75,0.8,0.85,0.9],
            "labels": false,
            "tickSize": {"condition": {"test": "abs(datum.value*5 - round(datum.value*5)) < 0.001", "value": -18}, "value": -9},
            "title": null
          }
        },
        "y": {
          "field": "ratio_hi", "type": "quantitative",
          "scale": {"domain": [0.5, 5.38272], "nice": false, "zero": false},
          "axis": {
            "orient": "left", "domain": false,
            "values": [0.5,0.55,0.6,0.65,0.7,0.75,0.8,0.85,0.9,0.95,1,1.05,1.1,1.15,1.2,1.25,1.3,1.35,1.4,1.45,1.5],
            "format": ".3~g",
            "labelOverlap": false,
            "labelExpr": "abs(datum.value*4 - round(datum.value*4)) < 0.001 && datum.value < 1.4 ? datum.label : ''",
            "tickSize": {"condition": {"test": "abs(datum.value*4 - round(datum.value*4)) < 0.001", "value": -16}, "value": -8},
            "labelPadding": 19,
            "title": "Data / Pred.",
            "titleFontSize": 29,
            "titleX": -80, "titleY": 634, "titleAngle": -90, "titleAlign": "right", "titleBaseline": "alphabetic"
          }
        },
        "y2": {"field": "ratio_lo"},
        "order": [{"field": "edge", "type": "quantitative"}, {"field": "lo", "type": "quantitative"}]
      }
    },
    {
      "data": {"values": [{}]},
      "mark": {"type": "rule", "color": "black", "strokeWidth": 2, "strokeDash": [5, 3]},
      "encoding": {
        "y": {
          "datum": 1, "type": "quantitative",
          "scale": {"domain": [0.5, 5.38272], "nice": false, "zero": false},
          "axis": {
            "orient": "right", "domain": false,
            "values": [0.5,0.55,0.6,0.65,0.7,0.75,0.8,0.85,0.9,0.95,1,1.05,1.1,1.15,1.2,1.25,1.3,1.35,1.4,1.45,1.5],
            "labels": false,
            "tickSize": {"condition": {"test": "abs(datum.value*4 - round(datum.value*4)) < 0.001", "value": -16}, "value": -8},
            "title": null
          }
        }
      }
    }
  ],
  "config": {
    "font": "Liberation Sans",
    "view": {"stroke": null},
    "axis": {
      "grid": false, "zindex": 1,
      "domainColor": "black", "domainWidth": 2, "domainCap": "square",
      "tickColor": "black", "tickWidth": 1.5,
      "labelColor": "black", "labelFont": "Liberation Sans", "labelFontSize": 26, "labelAngle": 0,
      "labelOverlap": false, "labelFlush": false, "labelBound": false,
      "titleFont": "Liberation Sans", "titleFontSize": 27, "titleFontWeight": "normal", "titleColor": "black"
    }
  }
}
